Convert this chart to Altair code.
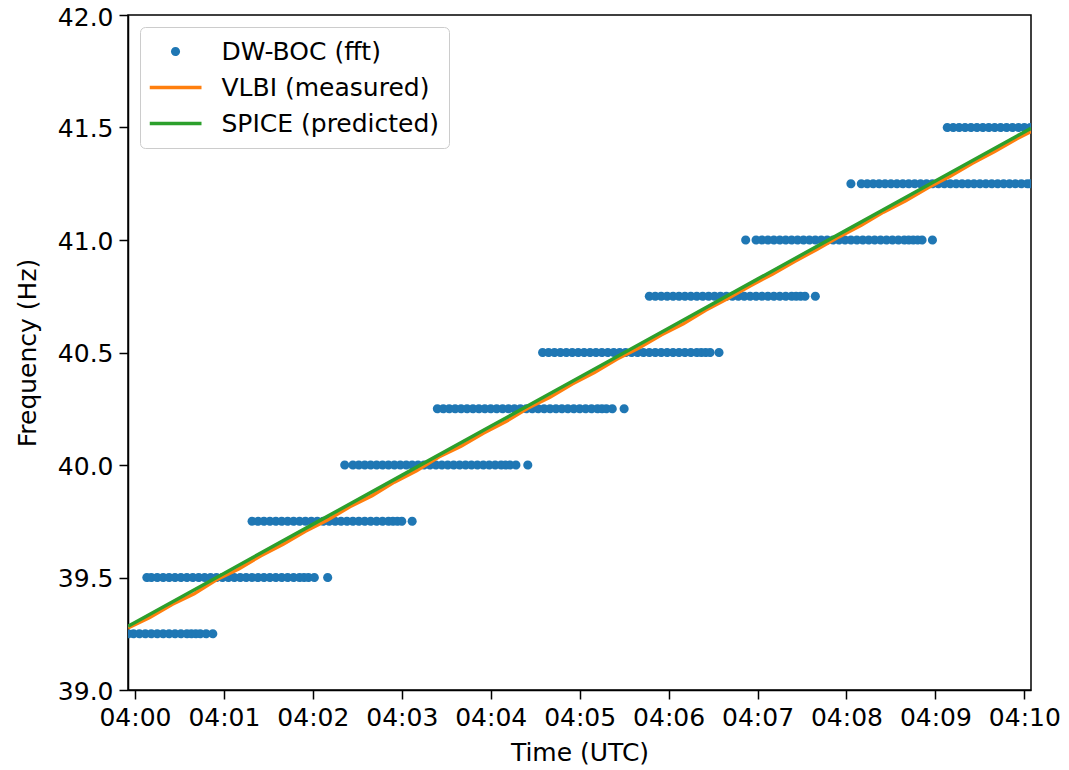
import altair as alt
import pandas as pd

# ---------------- data (times in seconds after 04:00:00 UTC) ----------------
SERIES = ["DW-BOC (fft)", "VLBI (measured)", "SPICE (predicted)"]
COLORS = ["#1f77b4", "#ff7f0e", "#2ca02c"]

# DW-BOC (fft) detections, quantised in 0.25 Hz bins
t_3925 = [-4.5, -1, 3, 7, 11, 15, 19, 23, 27, 31, 35, 38, 41, 44, 48, 52.5]
t_3950 = [8, 11, 15, 19, 23, 27, 31, 35, 39, 43, 47, 51, 55, 59, 63, 67, 71, 75, 79, 83,
          87, 91, 95, 99, 103, 107, 111, 114, 117, 121, 130]
t_3975 = [79, 83, 87, 91, 95, 99, 103, 107, 111, 115, 119, 123, 127, 131, 135, 139, 143,
          147, 151, 155, 159, 163, 167, 171, 174, 177, 180, 187]
t_4000 = [141.5, 147, 151, 155, 159, 163, 167, 171, 175, 179, 183, 187, 191, 195, 199, 203,
          207, 211, 215, 219, 223, 227, 231, 235, 239, 243, 247, 250, 253, 257, 265]
t_4025 = [204, 208, 212, 216, 220, 224, 228, 232, 236, 240, 244, 248, 252, 256, 260, 264,
          268, 272, 276, 280, 284, 288, 292, 296, 300, 304, 308, 312, 315, 318, 322, 330]
t_4050 = [275, 279, 283, 287, 291, 295, 299, 303, 307, 311, 315, 319, 323, 327, 331, 335,
          339, 343, 347, 351, 355, 359, 363, 367, 371, 375, 379, 382, 385, 388, 394]
t_4075 = [347, 351, 355, 359, 363, 367, 371, 375, 379, 383, 387, 391, 395, 399, 403, 407,
          411, 415, 419, 423, 427, 431, 435, 439, 443, 446, 449, 452, 459]
t_4100 = [412, 419, 423, 427, 431, 435, 439, 443, 447, 451, 455, 459, 463, 467, 471, 475,
          479, 483, 487, 491, 495, 499, 503, 507, 511, 515, 519, 522, 525, 528, 531, 538]
t_4125 = [483, 490, 494, 498, 502, 506, 510, 514, 518, 522, 526, 530, 534, 538, 542, 546,
          550, 554, 558, 562, 566, 570, 574, 578, 582, 586, 590, 594, 598, 602, 604]
t_4150 = [548, 552, 556, 560, 564, 568, 572, 576, 580, 584, 588, 592, 596, 600, 604]

fft_levels = [39.25, 39.5, 39.75, 40.0, 40.25, 40.5, 40.75, 41.0, 41.25, 41.5]
fft_times = [t_3925, t_3950, t_3975, t_4000, t_4025, t_4050, t_4075, t_4100, t_4125, t_4150]

# VLBI (measured)
vlbi_t = [-4.7, 10, 25, 40, 55, 70, 85, 100, 115, 130, 145, 160, 175, 190, 205, 220, 235,
          250, 265, 280, 295, 310, 325, 340, 355, 370, 385, 400, 415, 430, 445, 460, 475,
          490, 505, 520, 535, 550, 565, 580, 595, 604.5]
vlbi_f = [39.276, 39.322, 39.380, 39.428, 39.490, 39.538, 39.597, 39.648, 39.706, 39.756,
          39.815, 39.864, 39.924, 39.975, 40.036, 40.083, 40.141, 40.192, 40.252, 40.301,
          40.360, 40.411, 40.470, 40.520, 40.578, 40.628, 40.688, 40.740, 40.796, 40.848,
          40.905, 40.958, 41.014, 41.066, 41.124, 41.175, 41.232, 41.284, 41.341, 41.393,
          41.450, 41.482]

# SPICE (predicted)
spice_t = [-4.7, 0, 60, 120, 180, 240, 300, 360, 420, 480, 540, 600, 604.5]
spice_f = [39.283, 39.300, 39.518, 39.736, 39.954, 40.172, 40.390, 40.608, 40.826,
           41.044, 41.262, 41.480, 41.497]

x_ticks = [0, 60, 120, 180, 240, 300, 360, 420, 480, 540, 600]
y_ticks = [39.0, 39.5, 40.0, 40.5, 41.0, 41.5, 42.0]

# ---------------- tables ----------------
rows = []
for lvl, ts in zip(fft_levels, fft_times):
    for t in ts:
        rows.append({"t": t, "f": lvl, "series": SERIES[0]})
df_fft = pd.DataFrame(rows)
df_vlbi = pd.DataFrame({"t": vlbi_t, "f": vlbi_f})
df_spice = pd.DataFrame({"t": spice_t, "f": spice_f})

# legend / marker shapes (custom paths, scaled by sqrt(size)/2)
DOT = "M0.175,0A0.175,0.175,0,1,1,-0.175,0A0.175,0.175,0,1,1,0.175,0Z"
LINE = "M-1,-0.07L1,-0.07L1,0.07L-1,0.07Z"
SYM_SIZE = 2704

FONT = "DejaVu Sans"
FS = 25

x_enc = alt.X(
    "t:Q",
    scale=alt.Scale(domain=[-4.7, 604.5], nice=False, zero=False),
    axis=alt.Axis(
        values=x_ticks,
        labelExpr="'04:' + (datum.value < 600 ? '0' : '') + format(datum.value / 60, 'd')",
        title="Time (UTC)",
        grid=False,
    ),
)
y_enc = alt.Y(
    "f:Q",
    scale=alt.Scale(domain=[39, 42], nice=False, zero=False),
    axis=alt.Axis(
        values=y_ticks,
        format=".1f",
        title="Frequency (Hz)",
        grid=False,
        labelOffset={"condition": {"test": "datum.value >= 42", "value": 2}, "value": 1},
    ),
)

legend = alt.Legend(
    title=None,
    orient="top-left",
    offset=12,
    fillColor="white",
    strokeColor="#cccccc",
    cornerRadius=5,
    padding=9.5,
    labelFont=FONT,
    labelFontSize=FS,
    labelColor="black",
    labelOffset=20,
    labelLimit=500,
    symbolSize=SYM_SIZE,
    symbolStrokeWidth=0,
    clipHeight=30,
    rowPadding=6,
)

points = alt.Chart(df_fft).mark_point(
    filled=True, opacity=1, size=SYM_SIZE, strokeWidth=0, clip=True
).encode(
    x=x_enc,
    y=y_enc,
    color=alt.Color("series:N", scale=alt.Scale(domain=SERIES, range=COLORS), legend=legend),
    shape=alt.Shape("series:N", scale=alt.Scale(domain=SERIES, range=[DOT, LINE, LINE]), legend=legend),
)

vlbi = alt.Chart(df_vlbi).mark_line(color=COLORS[1], strokeWidth=3.5, clip=True).encode(
    x="t:Q", y="f:Q"
)
spice = alt.Chart(df_spice).mark_line(color=COLORS[2], strokeWidth=3.5, clip=True).encode(
    x="t:Q", y="f:Q"
)

chart = (
    alt.layer(points, vlbi, spice)
    .properties(
        width=903,
        height=675,
        autosize=alt.AutoSizeParams(type="none"),
        padding={"left": 120, "top": 7, "right": 30, "bottom": 78},
    )
    .configure(font=FONT)
    .configure_view(stroke="black", strokeWidth=1.5)
    .configure_axis(
        labelFont=FONT,
        titleFont=FONT,
        labelFontSize=FS,
        titleFontSize=FS,
        titleFontWeight="normal",
        labelColor="black",
        titleColor="black",
        domainColor="black",
        domainWidth=1.5,
        tickColor="black",
        tickWidth=1.5,
        tickSize=9,
        labelPadding=6,
    )
    .configure_axisX(titlePadding=10)
    .configure_axisY(titlePadding=17)
)

chart.save("out.html", embed_options={"renderer": "svg", "actions": False})
